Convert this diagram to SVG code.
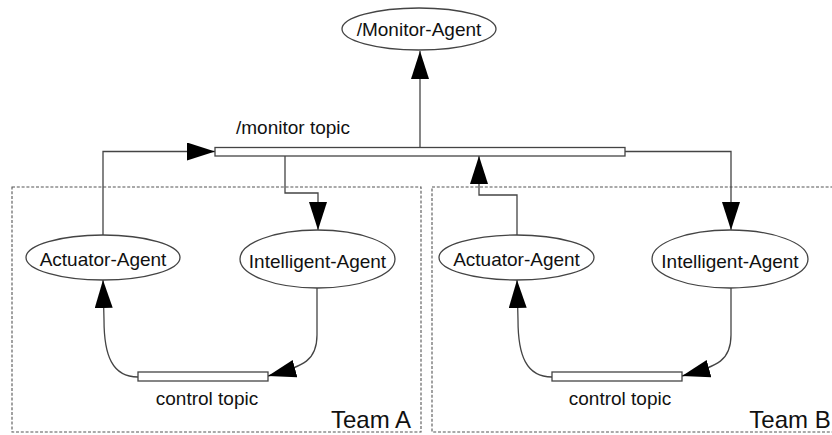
<svg xmlns="http://www.w3.org/2000/svg" width="832" height="435" viewBox="0 0 832 435">
<style>
.node{fill:#fff;stroke:#444;stroke-width:1.3}
.bar{fill:#fff;stroke:#444;stroke-width:1.3}
.team{fill:none;stroke:#555;stroke-width:1.1;stroke-dasharray:3,1.8}
.t{font-family:"Liberation Sans",Arial,sans-serif;fill:#111;text-anchor:middle}
.edge{fill:none;stroke:#444;stroke-width:1.3;marker-end:url(#ah)}
</style>
<defs>
<marker id="ah" markerUnits="userSpaceOnUse" markerWidth="28" markerHeight="18" refX="28" refY="9" orient="auto" viewBox="0 0 28 18">
<path d="M0,0 L28,9 L0,18 z" fill="#000"/>
</marker>
</defs>
<rect width="832" height="435" fill="#fff"/>
<g id="teamA"><rect class="team" x="12" y="187" width="409" height="245"/><text class="t" x="371" y="428" font-size="24">Team A</text></g>
<g id="teamB"><rect class="team" x="432" y="187" width="410" height="245"/><text class="t" x="790" y="428" font-size="24">Team B</text></g>
<g id="connectors">
<path class="edge" d="M420,147.5 L420,51"/>
<path class="edge" d="M103,235 L103,151.5 L215,151.5"/>
<path class="edge" d="M285,156 L285,193 L318,193 L318,230"/>
<path class="edge" d="M517,235 L517,195 L479,195 L479,156"/>
<path class="edge" d="M625,151.5 L731,151.5 L731,230"/>
<path class="edge" d="M317,288 L317,335 C317,360 305,366 268,376"/>
<path class="edge" d="M138,377 C112,377 104,355 104,320 L103,280"/>
<path class="edge" d="M731,288 L731,335 C731,360 719,366 682,376"/>
<path class="edge" d="M552,377 C526,377 518,355 518,320 L517,280"/>
</g>
<g id="monitor-agent"><ellipse class="node" cx="419" cy="29" rx="77" ry="21"/><text class="t" x="419" y="36" font-size="19">/Monitor-Agent</text></g>
<g id="monitor-topic"><rect class="bar" x="215" y="147.5" width="410" height="8.5"/><text class="t" x="293" y="134" font-size="19">/monitor topic</text></g>
<g id="actuator-a"><ellipse class="node" cx="103" cy="257.5" rx="77" ry="22.5"/><text class="t" x="103" y="266" font-size="19">Actuator-Agent</text></g>
<g id="intelligent-a"><ellipse class="node" cx="317.5" cy="259" rx="77.5" ry="29"/><text class="t" x="317.5" y="268" font-size="19">Intelligent-Agent</text></g>
<g id="control-a"><rect class="bar" x="138" y="372" width="130" height="9"/><text class="t" x="207" y="405" font-size="19">control topic</text></g>
<g id="actuator-b"><ellipse class="node" cx="516.5" cy="257.5" rx="77.5" ry="22.5"/><text class="t" x="516.5" y="266" font-size="19">Actuator-Agent</text></g>
<g id="intelligent-b"><ellipse class="node" cx="730" cy="259" rx="78" ry="29"/><text class="t" x="730" y="268" font-size="19">Intelligent-Agent</text></g>
<g id="control-b"><rect class="bar" x="552" y="372" width="130" height="9"/><text class="t" x="620" y="405" font-size="19">control topic</text></g>
</svg>
